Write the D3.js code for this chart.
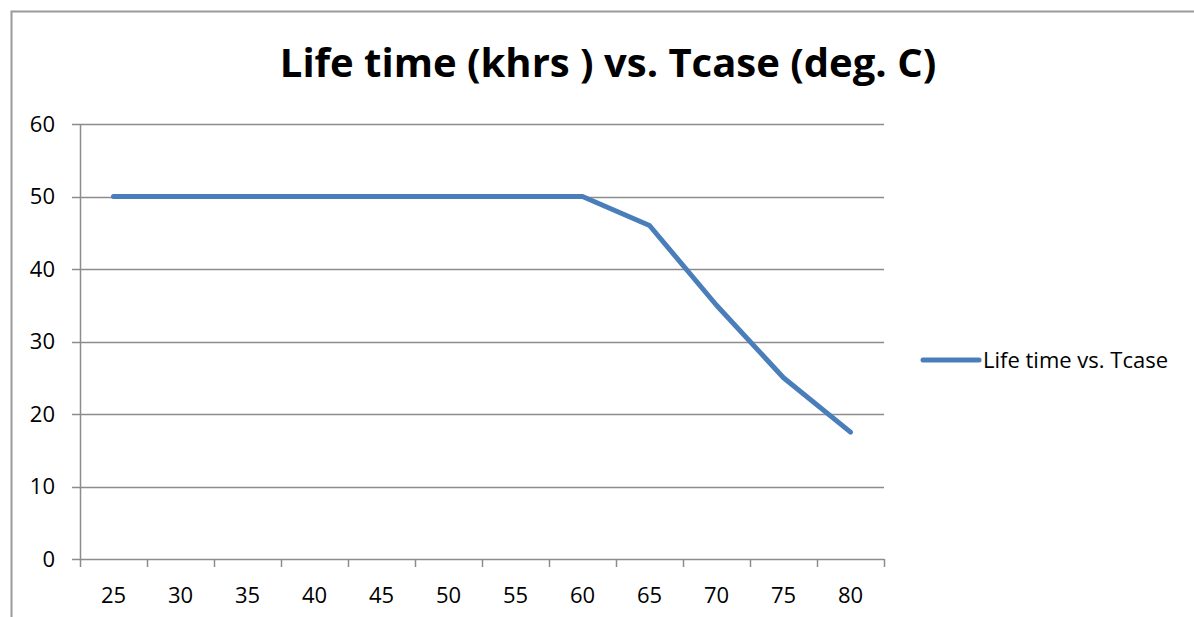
<!DOCTYPE html>
<html>
<head>
<meta charset="utf-8">
<script src="https://cdn.jsdelivr.net/npm/d3@7"></script>
<style>
  body { margin: 0; background: #fff; }
  text { font-family: "Open Sans", "Liberation Sans", sans-serif; fill: #000; }
</style>
</head>
<body>
<svg id="chart" width="1194" height="617"></svg>
<script>
// data
var tcase = ["25", "30", "35", "40", "45", "50", "55", "60", "65", "70", "75", "80"];
var lifeTime = [50, 50, 50, 50, 50, 50, 50, 50, 46, 35, 25, 17.5];
var yTicks = [0, 10, 20, 30, 40, 50, 60];
var seriesName = "Life time vs. Tcase";
var titleText = "Life time (khrs ) vs. Tcase (deg. C)";

var gridColor = "#8c8c8c";
var lineColor = "#4a7ebb";
var labelSize = "22px";

var plot = { left: 80, right: 884, top: 124, bottom: 559 };

var svg = d3.select("#chart");

// outer chart border (right and bottom run off the picture)
svg.append("rect")
  .attr("x", 11.5).attr("y", 11.5)
  .attr("width", 1300).attr("height", 700)
  .attr("fill", "none")
  .attr("stroke", "#9a9a9a")
  .attr("stroke-width", 2);

svg.append("text")
  .attr("x", 608)
  .attr("y", 77)
  .attr("text-anchor", "middle")
  .style("font-size", "40px")
  .style("font-weight", "bold")
  .text(titleText);

var xScale = d3.scaleBand().domain(tcase).range([plot.left, plot.right]);
var yScale = d3.scaleLinear().domain([0, 60]).range([plot.bottom, plot.top]);

// horizontal gridlines
svg.append("g")
  .selectAll("line")
  .data(yTicks)
  .enter()
  .append("line")
  .attr("x1", plot.left - 8)
  .attr("x2", plot.right)
  .attr("y1", (d) => Math.round(yScale(d)) + 0.5)
  .attr("y2", (d) => Math.round(yScale(d)) + 0.5)
  .attr("stroke", gridColor)
  .attr("stroke-width", 1.5);

// y axis line
svg.append("line")
  .attr("x1", plot.left + 0.5).attr("x2", plot.left + 0.5)
  .attr("y1", plot.top).attr("y2", plot.bottom)
  .attr("stroke", gridColor)
  .attr("stroke-width", 1.5);

// y labels
svg.append("g")
  .selectAll("text")
  .data(yTicks)
  .enter()
  .append("text")
  .attr("x", 55)
  .attr("y", (d) => yScale(d))
  .attr("dy", "0.36em")
  .attr("text-anchor", "end")
  .style("font-size", labelSize)
  .text((d) => d);

// x tick marks at band edges
var xEdges = tcase.map((d) => xScale(d)).concat([plot.right]);
svg.append("g")
  .selectAll("line")
  .data(xEdges)
  .enter()
  .append("line")
  .attr("x1", (d) => Math.round(d) + 0.5)
  .attr("x2", (d) => Math.round(d) + 0.5)
  .attr("y1", plot.bottom)
  .attr("y2", plot.bottom + 8)
  .attr("stroke", gridColor)
  .attr("stroke-width", 1.5);

// x labels
svg.append("g")
  .selectAll("text")
  .data(tcase)
  .enter()
  .append("text")
  .attr("x", (d) => xScale(d) + xScale.bandwidth() / 2)
  .attr("y", 603)
  .attr("text-anchor", "middle")
  .style("font-size", labelSize)
  .text((d) => d);

// the series line
var line = d3.line()
  .x((d, i) => xScale(tcase[i]) + xScale.bandwidth() / 2)
  .y((d) => yScale(d));

svg.append("path")
  .datum(lifeTime)
  .attr("d", line)
  .attr("fill", "none")
  .attr("stroke", lineColor)
  .attr("stroke-width", 5)
  .attr("stroke-linecap", "round")
  .attr("stroke-linejoin", "round");

// legend
var legend = svg.append("g").attr("transform", "translate(923,360)");
legend.append("line")
  .attr("x1", 0).attr("x2", 56)
  .attr("y1", 0).attr("y2", 0)
  .attr("stroke", lineColor)
  .attr("stroke-width", 5)
  .attr("stroke-linecap", "round");
legend.append("text")
  .attr("x", 60)
  .attr("y", 0)
  .attr("dy", "0.36em")
  .style("font-size", labelSize)
  .text(seriesName);
</script>
</body>
</html>
